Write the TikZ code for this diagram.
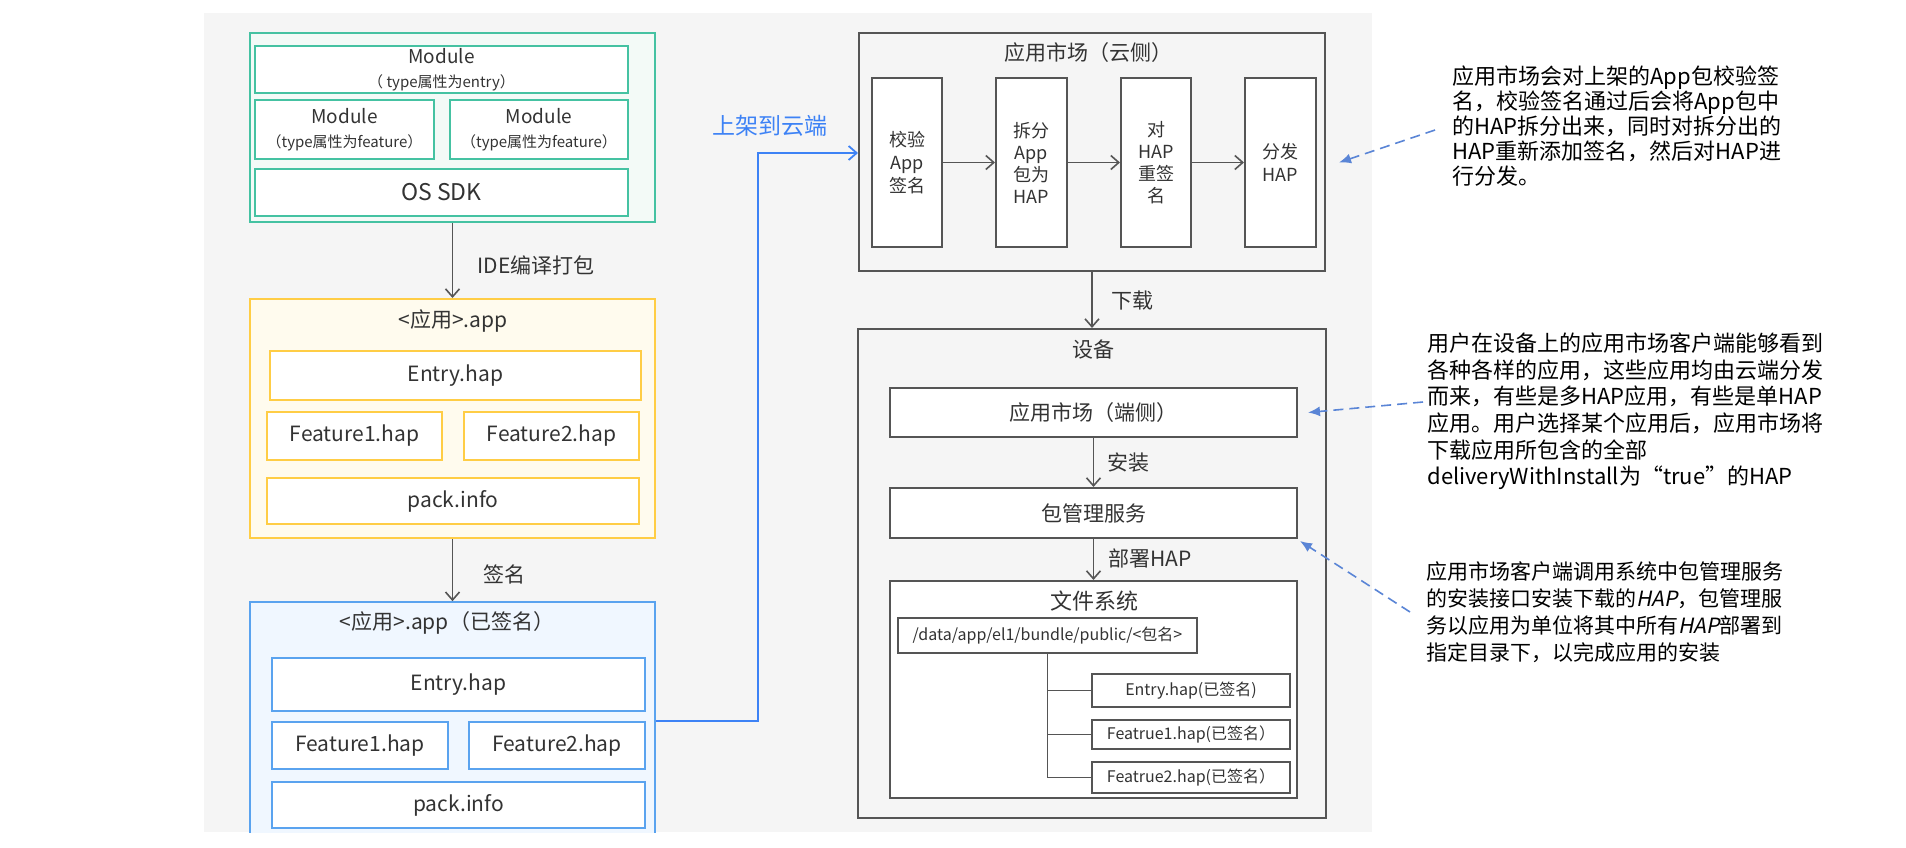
\documentclass[tikz,border=0pt]{standalone}
\usepackage{fontspec}
\setmainfont{Noto Sans CJK SC}
\newfontfamily\slantfont[FakeSlant=0.2]{Noto Sans CJK SC}
\usetikzlibrary{arrows.meta}

\definecolor{bggray}{HTML}{F5F5F5}
\definecolor{txtgray}{HTML}{333333}
\definecolor{linegray}{HTML}{555555}
\definecolor{grnline}{HTML}{45C2A2}
\definecolor{grnfill}{HTML}{F3FAF7}
\definecolor{ylwline}{HTML}{FFCD45}
\definecolor{ylwfill}{HTML}{FFFBEE}
\definecolor{bluline}{HTML}{5AA3EF}
\definecolor{blufill}{HTML}{F0F7FF}
\definecolor{upblue}{HTML}{3D82F5}
\definecolor{dashblue}{HTML}{5A85D6}

\newcommand{\fsz}[2]{\fontsize{#1}{#2}\selectfont}

\begin{document}
\begin{tikzpicture}[x=0.5pt,y=-0.5pt,
 every node/.style={inner sep=0pt,text=txtgray,align=center},
 grnbox/.style={draw=grnline,line width=1pt,fill=white},
 ylwbox/.style={draw=ylwline,line width=1pt,fill=white},
 blubox/.style={draw=bluline,line width=1pt,fill=white},
 grybox/.style={draw=linegray,line width=1pt,fill=white},
 flow/.style={draw=linegray,line width=0.8pt,-{Straight Barb[length=4pt,width=7pt]}},
 notelink/.style={draw=dashblue,line width=0.8pt,dash pattern=on 5pt off 3pt,-{Latex[length=6pt,width=5pt]}},
 lbl/.style={anchor=west,font=\fsz{10.5}{12}},
 note/.style={anchor=west,align=left,text=black}]
 % background
 \fill[white] (0,0) rectangle (1906,847);
 \fill[bggray] (204,13) rectangle (1372,832);

 % source modules
 \node[draw=grnline,line width=1pt,fill=grnfill,minimum width=202.5pt,minimum height=94.5pt] (gMod) at (452.5,127.5) {};
 \node[grnbox,minimum width=186.5pt,minimum height=23.5pt] (modEntry) at (441.5,69.5) {\fsz{9.5}{10.5}Module\\\fsz{7.5}{9}（ type属性为entry）};
 \node[grnbox,minimum width=89.5pt,minimum height=29.5pt] (modF1) at (344.5,129.5) {\fsz{9.5}{10.5}Module\\\fsz{7.5}{9}（type属性为feature）};
 \node[grnbox,minimum width=89pt,minimum height=29.5pt] (modF2) at (539,129.5) {\fsz{9.5}{10.5}Module\\\fsz{7.5}{9}（type属性为feature）};
 \node[grnbox,minimum width=186.5pt,minimum height=23.5pt,font=\fsz{11.5}{13}] (osSDK) at (441.5,192.5) {OS SDK};

 % app package
 \node[draw=ylwline,line width=1pt,fill=ylwfill,minimum width=202.5pt,minimum height=119.5pt] (yApp) at (452.5,418.5) {};
 \node[font=\fsz{10.5}{12}] (yTitle) at (453,321) {<应用>.app};
 \node[ylwbox,minimum width=185.5pt,minimum height=24.5pt,font=\fsz{10.5}{12}] (yEntry) at (455.5,375.5) {Entry.hap};
 \node[ylwbox,minimum width=87.5pt,minimum height=24pt,font=\fsz{10.5}{12}] (yF1) at (354.5,436) {Feature1.hap};
 \node[ylwbox,minimum width=87.5pt,minimum height=24pt,font=\fsz{10.5}{12}] (yF2) at (551.5,436) {Feature2.hap};
 \node[ylwbox,minimum width=186pt,minimum height=23pt,font=\fsz{10.5}{12}] (yPack) at (453,501) {pack.info};

 % signed app package
 \begin{scope}
  \clip (204,13) rectangle (1372,832);
  \node[draw=bluline,line width=1pt,fill=blufill,minimum width=202.5pt,minimum height=134pt] (bApp) at (452.5,736) {};
  \node[font=\fsz{10.5}{12}] (bTitle) at (447,623) {<应用>.app（已签名）};
  \node[blubox,minimum width=186.5pt,minimum height=26.5pt,font=\fsz{10.5}{12}] (bEntry) at (458.5,684.5) {Entry.hap};
  \node[blubox,minimum width=88pt,minimum height=23.5pt,font=\fsz{10.5}{12}] (bF1) at (360,745.5) {Feature1.hap};
  \node[blubox,minimum width=88pt,minimum height=23.5pt,font=\fsz{10.5}{12}] (bF2) at (557,745.5) {Feature2.hap};
  \node[blubox,minimum width=186.5pt,minimum height=23pt,font=\fsz{10.5}{12}] (bPack) at (458.5,805) {pack.info};
 \end{scope}

 \draw[flow] (gMod.south) -- (yApp.north);
 \node[lbl] (lbIde) at (477,265) {IDE编译打包};
 \draw[flow] (yApp.south) -- ([yshift=-0.1pt]bApp.north);
 \node[lbl] (lbSign) at (483,574) {签名};

 % cloud side
 \node[draw=linegray,line width=1pt,minimum width=233pt,minimum height=119pt] (cloud) at (1092,152) {};
 \node[font=\fsz{10.5}{12}] (cTitle) at (1088,53) {应用市场（云侧）};
 \node[grybox,minimum width=35pt,minimum height=84.5pt,font=\fsz{9}{11.5}] (c1) at (907,162.5) {校验\\App\\签名};
 \node[grybox,minimum width=35.5pt,minimum height=84.5pt,font=\fsz{9}{11}] (c2) at (1031.5,162.5) {拆分\\App\\包为\\HAP};
 \node[grybox,minimum width=35pt,minimum height=84.5pt,font=\fsz{9}{11}] (c3) at (1156,162.5) {对\\HAP\\重签\\名};
 \node[grybox,minimum width=35.5pt,minimum height=84.5pt,font=\fsz{9}{11.5}] (c4) at (1280.5,162.5) {分发\\HAP};
 \draw[flow] (c1) -- (c2);
 \draw[flow] (c2) -- (c3);
 \draw[flow] (c3) -- (c4);

 % upload
 \coordinate (upA) at (655,721);
 \coordinate (upB) at (758,153);
 \draw[draw=upblue,line width=0.9pt,-{Straight Barb[length=4pt,width=7pt]}] (bApp.east |- upA) -| (upB) -- (cloud.west |- upB);
 \node[font=\fsz{11.5}{13},text=upblue] (lbUp) at (770,126) {上架到云端};

 % device side
 \node[draw=linegray,line width=1pt,minimum width=234pt,minimum height=244.5pt] (dev) at (1092,573.5) {};
 \node[font=\fsz{10.5}{12}] (dTitle) at (1093,350) {设备};
 \draw[flow] (cloud.south) -- (dev.north);
 \node[lbl] (lbDown) at (1111,301) {下载};
 \node[grybox,minimum width=203.5pt,minimum height=24.5pt,font=\fsz{10.5}{12}] (devMkt) at (1093.5,412.5) {应用市场（端侧）};
 \node[grybox,minimum width=203.5pt,minimum height=25pt,font=\fsz{10.5}{12}] (bms) at (1093.5,513) {包管理服务};
 \node[grybox,minimum width=203.5pt,minimum height=108.5pt] (fs) at (1093.5,689.5) {};
 \node[font=\fsz{11}{12}] (fsTitle) at (1094,601) {文件系统};
 \draw[flow] (devMkt.south) -- (bms.north);
 \node[lbl] (lbInst) at (1107,463) {安装};
 \draw[flow] (bms.south) -- (fs.north);
 \node[lbl] (lbDeploy) at (1108,558) {部署HAP};

 % file tree
 \node[grybox,minimum width=149.5pt,minimum height=17.5pt,font=\fsz{8}{9}] (fsPath) at (1047.5,635.5) {/data/app/el1/bundle/public/<包名>};
 \node[grybox,minimum width=99pt,minimum height=16.5pt,font=\fsz{8}{9}] (fsE) at (1191,690.5) {Entry.hap(已签名)};
 \node[grybox,minimum width=99pt,minimum height=14.5pt,font=\fsz{8}{9}] (fsF1) at (1191,734.5) {Featrue1.hap(已签名）};
 \node[grybox,minimum width=99pt,minimum height=15.5pt,font=\fsz{8}{9}] (fsF2) at (1191,777.5) {Featrue2.hap(已签名）};
 \draw[linegray,line width=0.8pt] (fsPath.south) |- (fsF2.west);
 \draw[linegray,line width=0.8pt] (fsPath.south |- fsE.west) -- (fsE.west);
 \draw[linegray,line width=0.8pt] (fsPath.south |- fsF1.west) -- (fsF1.west);

 % notes
 \node[note,font=\fsz{11}{12.4}] (note1) at (1452,126) {应用市场会对上架的App包校验签\\名，校验签名通过后会将App包中\\的HAP拆分出来，同时对拆分出的\\HAP重新添加签名，然后对HAP进\\行分发。};
 \node[note,font=\fsz{11}{13.3}] (note2) at (1427,411.5) {用户在设备上的应用市场客户端能够看到\\各种各样的应用，这些应用均由云端分发\\而来，有些是多HAP应用，有些是单HAP\\应用。用户选择某个应用后，应用市场将\\下载应用所包含的全部\\deliveryWithInstall为“true”的HAP};
 \node[note,font=\fsz{10.5}{13.5}] (note3) at (1426,612) {应用市场客户端调用系统中包管理服务\\的安装接口安装下载的{\slantfont HAP}，包管理服\\务以应用为单位将其中所有{\slantfont HAP}部署到\\指定目录下，以完成应用的安装};
 \draw[notelink] ([shift={(-8.5pt,-2pt)}]note1.west) -- ([xshift=11pt]c4.east);
 \draw[notelink] ([shift={(-2pt,4.75pt)}]note2.west) -- ([xshift=5pt]devMkt.east);
 \draw[notelink] ([xshift=-8pt]note3.west) -- ([shift={(1pt,-1pt)}]bms.south east);
\end{tikzpicture}
\end{document}
